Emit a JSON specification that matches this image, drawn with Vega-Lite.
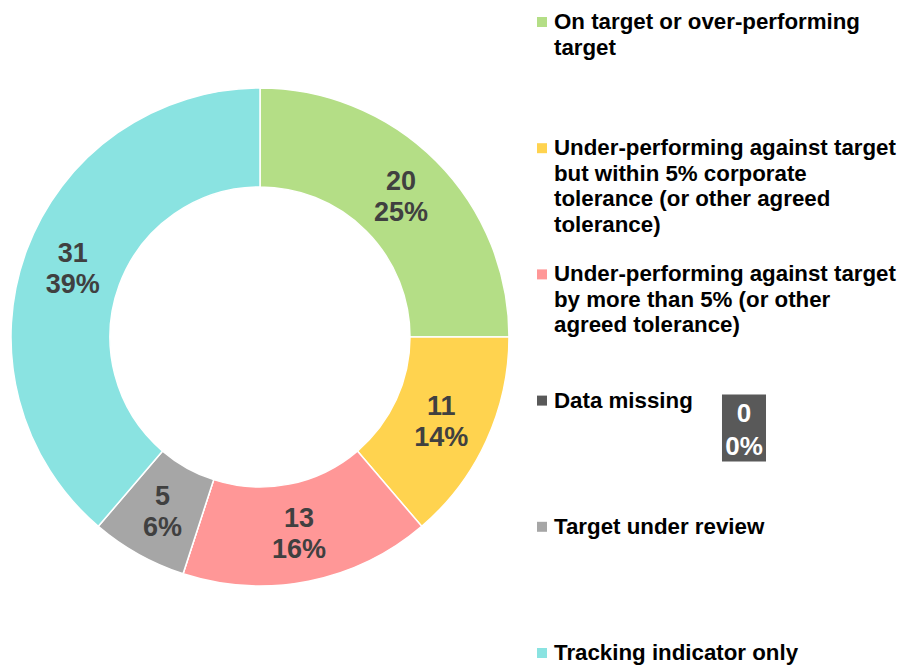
{
  "$schema": "https://vega.github.io/schema/vega-lite/v6.json",
  "padding": {"top": 7, "left": 0, "right": 0, "bottom": 0},
  "background": "white",
  "spacing": 0,
  "config": {"view": {"stroke": null}, "font": "Liberation Sans", "concat": {"spacing": 0}},
  "datasets": {
    "status": [
      {"category": "On target or over-performing target", "legend": "On target or over-performing\ntarget", "count": 20, "pct": "25%", "row": 0},
      {"category": "Under-performing against target but within 5% corporate tolerance (or other agreed tolerance)", "legend": "Under-performing against target\nbut within 5% corporate\ntolerance (or other agreed\ntolerance)", "count": 11, "pct": "14%", "row": 1},
      {"category": "Under-performing against target by more than 5% (or other agreed tolerance)", "legend": "Under-performing against target\nby more than 5% (or other\nagreed tolerance)", "count": 13, "pct": "16%", "row": 2},
      {"category": "Data missing", "legend": "Data missing", "count": 0, "pct": "0%", "row": 3},
      {"category": "Target under review", "legend": "Target under review", "count": 5, "pct": "6%", "row": 4},
      {"category": "Tracking indicator only", "legend": "Tracking indicator only", "count": 31, "pct": "39%", "row": 5}
    ]
  },
  "hconcat": [
    {
      "width": 520,
      "height": 660,
      "data": {"name": "status"},
      "transform": [{"calculate": "datum.count + '\\n' + datum.pct", "as": "label"}],
      "encoding": {
        "theta": {"field": "count", "type": "quantitative", "stack": true},
        "order": {"field": "row", "type": "quantitative"}
      },
      "layer": [
        {
          "mark": {"type": "arc", "innerRadius": 150, "outerRadius": 249, "stroke": "white", "strokeWidth": 1.5},
          "encoding": {
            "color": {
              "field": "category", "type": "nominal", "legend": null,
              "scale": {
                "domain": [
                  "On target or over-performing target",
                  "Under-performing against target but within 5% corporate tolerance (or other agreed tolerance)",
                  "Under-performing against target by more than 5% (or other agreed tolerance)",
                  "Data missing",
                  "Target under review",
                  "Tracking indicator only"
                ],
                "range": ["#B4DE86", "#FFD34F", "#FF9797", "#595959", "#A6A6A6", "#8AE3E1"]
              }
            }
          }
        },
        {
          "transform": [{"filter": "datum.count > 0"}],
          "mark": {"type": "text", "radius": 199.5, "fontSize": 27, "fontWeight": "bold", "fill": "#404040", "lineBreak": "\n", "lineHeight": 31, "baseline": "middle", "align": "center", "dy": -14},
          "encoding": {"text": {"field": "label", "type": "nominal"}}
        }
      ]
    },
    {
      "width": 384,
      "height": 660,
      "data": {"name": "status"},
      "transform": [{"calculate": "datum.count + '\\n' + datum.pct", "as": "label"}],
      "encoding": {
        "y": {"field": "row", "type": "quantitative", "scale": {"domain": [0, 5], "range": [15, 646]}, "axis": null}
      },
      "layer": [
        {
          "mark": {"type": "point", "shape": "square", "filled": true, "size": 100, "opacity": 1},
          "encoding": {
            "x": {"value": 22},
            "color": {"field": "category", "type": "nominal", "legend": null}
          }
        },
        {
          "mark": {"type": "text", "align": "left", "baseline": "alphabetic", "dy": 7, "fontSize": 22.3, "fontWeight": "bold", "lineBreak": "\n", "lineHeight": 25.5, "fill": "black"},
          "encoding": {"x": {"value": 34}, "text": {"field": "legend", "type": "nominal"}}
        },
        {
          "transform": [{"filter": "datum.count == 0"}],
          "mark": {"type": "point", "shape": "M-0.657,-1L0.657,-1L0.657,1L-0.657,1Z", "size": 4489, "filled": true, "opacity": 1, "yOffset": 27.5},
          "encoding": {
            "x": {"value": 224},
            "color": {"field": "category", "type": "nominal", "legend": null}
          }
        },
        {
          "transform": [{"filter": "datum.count == 0"}],
          "mark": {"type": "text", "align": "center", "baseline": "alphabetic", "dy": 21, "fontSize": 26, "fontWeight": "bold", "fill": "white", "lineBreak": "\n", "lineHeight": 33},
          "encoding": {"x": {"value": 224}, "text": {"field": "label", "type": "nominal"}}
        }
      ]
    }
  ]
}
